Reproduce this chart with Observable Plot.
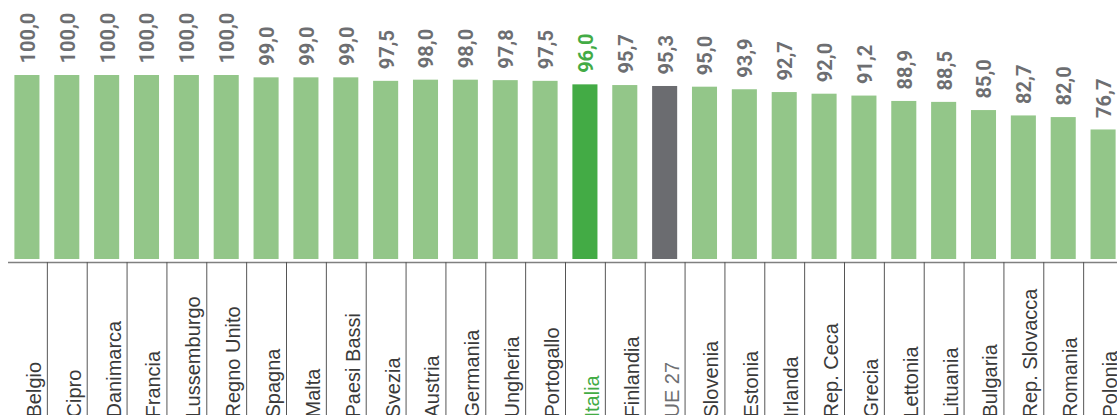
<!DOCTYPE html>
<html>
<head>
<meta charset="utf-8">
<script src="https://cdn.jsdelivr.net/npm/d3@7"></script>
<script src="https://cdn.jsdelivr.net/npm/@observablehq/plot@0.6"></script>
<style>
  html, body { margin: 0; padding: 0; background: #fff; overflow: hidden; }
</style>
</head>
<body>
<div id="chart"></div>
<script>
const countries = ["Belgio","Cipro","Danimarca","Francia","Lussemburgo","Regno Unito","Spagna","Malta","Paesi Bassi","Svezia","Austria","Germania","Ungheria","Portogallo","Italia","Finlandia","UE 27","Slovenia","Estonia","Irlanda","Rep. Ceca","Grecia","Lettonia","Lituania","Bulgaria","Rep. Slovacca","Romania","Polonia"];
const values = [100.0,100.0,100.0,100.0,100.0,100.0,99.0,99.0,99.0,97.5,98.0,98.0,97.8,97.5,96.0,95.7,95.3,95.0,93.9,92.7,92.0,91.2,88.9,88.5,85.0,82.7,82.0,76.7];

const data = countries.map((c, i) => ({country: c, value: values[i]}));

const yMin = 20;
const step = (1123 - 7) / countries.length;
const barFill = d => d.country === "Italia" ? "#43ab45" : d.country === "UE 27" ? "#6b6c70" : "#93c689";
const valueFill = d => d.country === "Italia" ? "#43ab45" : "#6d6e71";
const labelFill = d => d.country === "Italia" ? "#43ab45" : d.country === "UE 27" ? "#6d6e71" : "#3a3a3a";

const chart = Plot.plot({
  width: 1117,
  height: 415,
  marginTop: 0,
  marginBottom: 0,
  marginLeft: 8,
  marginRight: 0,
  style: {fontFamily: "'Liberation Sans', Arial, sans-serif", overflow: "hidden", background: "#fff"},
  x: {type: "band", domain: countries, range: [7, 1123], padding: 0, round: false, axis: null},
  y: {domain: [yMin, 100], range: [262, 75], axis: null},
  marks: [
    Plot.barY(data, {x: "country", y1: yMin, y2: "value", fill: barFill, insetLeft: 7.4, insetRight: 7.4, insetBottom: 3}),
    Plot.ruleY([yMin], {stroke: "#808080", strokeWidth: 1.5}),
    Plot.ruleX(countries.slice(1), {x: d => d, dx: -step / 2, insetTop: 262, stroke: "#555", strokeWidth: 1}),
    Plot.text(data, {x: "country", y: "value", text: d => d.value.toFixed(1).replace(".", ","), rotate: -90, textAnchor: "start", lineAnchor: "middle", dy: -12, dx: 1, fontSize: 20, fontWeight: "bold", fontFamily: "Roboto, 'Liberation Sans', sans-serif", fill: valueFill}),
    Plot.text(data, {x: "country", text: "country", frameAnchor: "bottom", rotate: -90, textAnchor: "start", lineAnchor: "middle", dy: 2, dx: 7, fontSize: 20, fill: labelFill})
  ]
});
document.getElementById("chart").appendChild(chart);
</script>
</body>
</html>
